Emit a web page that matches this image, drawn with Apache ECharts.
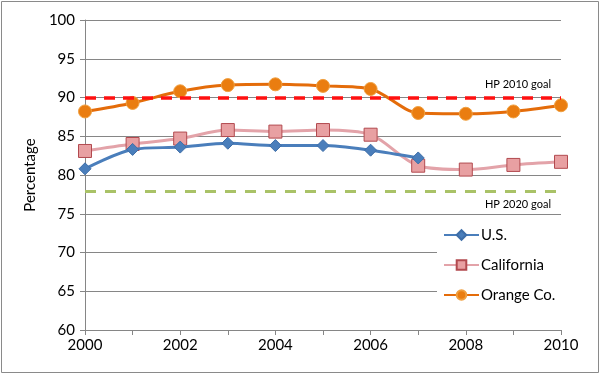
<!DOCTYPE html>
<html>
<head>
<meta charset="utf-8">
<script src="https://cdn.jsdelivr.net/npm/echarts@6/dist/echarts.min.js"></script>
<style>
html,body{margin:0;padding:0;background:#fff;}
#chart{width:602px;height:374px;}
</style>
</head>
<body>
<div id="chart"></div>
<script>
const years = ['2000','2001','2002','2003','2004','2005','2006','2007','2008','2009','2010'];
const usValues = [80.8, 83.3, 83.6, 84.1, 83.8, 83.8, 83.2, 82.2, null, null, null];
const californiaValues = [83.1, 84.0, 84.7, 85.8, 85.6, 85.8, 85.2, 81.2, 80.7, 81.3, 81.7];
const orangeValues = [88.2, 89.3, 90.8, 91.6, 91.7, 91.5, 91.1, 88.0, 87.9, 88.2, 89.0];
const goal2010 = 90;
const goal2020 = 77.9;
const yTicks = [60, 65, 70, 75, 80, 85, 90, 95, 100];

const FONT = 'Lato, "Open Sans", sans-serif';
const chart = echarts.init(document.getElementById('chart'), null, {renderer: 'canvas'});

chart.setOption({
  animation: false,
  backgroundColor: '#ffffff',
  textStyle: {fontFamily: FONT},
  graphic: [{
    type: 'rect',
    shape: {x: 1.5, y: 1.5, width: 597, height: 371},
    style: {fill: 'none', stroke: '#8a8a8a', lineWidth: 1},
    silent: true
  }],
  grid: {left: 85, right: 41, top: 20, bottom: 44},
  xAxis: {
    type: 'category',
    data: years,
    boundaryGap: false,
    axisLine: {lineStyle: {color: '#868686', width: 1}},
    axisTick: {show: true, inside: false, length: 5, interval: 0, lineStyle: {color: '#868686'}},
    axisLabel: {interval: 1, color: '#000', fontSize: 15, fontFamily: FONT, margin: 8},
    splitLine: {show: false}
  },
  yAxis: {
    type: 'value',
    min: yTicks[0],
    max: yTicks[yTicks.length - 1],
    interval: 5,
    name: 'Percentage',
    nameLocation: 'middle',
    nameGap: 46,
    nameRotate: 90,
    nameTextStyle: {color: '#000', fontSize: 15, fontFamily: FONT},
    axisLine: {show: true, lineStyle: {color: '#868686', width: 1}},
    axisTick: {show: true, length: 5, lineStyle: {color: '#868686'}},
    axisLabel: {color: '#000', fontSize: 15, fontFamily: FONT, margin: 10},
    splitLine: {show: true, lineStyle: {color: '#868686', width: 1}}
  },
  legend: {
    orient: 'vertical',
    left: 437,
    top: 220,
    padding: [7, 8, 7, 6],
    backgroundColor: '#ffffff',
    itemWidth: 35,
    itemHeight: 12,
    itemGap: 14,
    textStyle: {color: '#000', fontSize: 15, fontFamily: FONT, lineHeight: 16, padding: [0, 0, 0, -3]},
    data: ['U.S.', 'California', 'Orange Co.']
  },
  series: [
    {
      name: 'Goals',
      type: 'line',
      data: [],
      silent: true,
      markLine: {
        silent: true,
        symbol: ['none', 'none'],
        data: [
          {yAxis: goal2010, lineStyle: {color: '#ff1010', width: 3.5, type: [11, 8]},
           label: {show: true, position: 'insideEndTop', formatter: 'HP 2010 goal', color: '#000', fontSize: 11, fontFamily: FONT, distance: [10, 8]}},
          {yAxis: goal2020, lineStyle: {color: '#a9c267', width: 3, type: [11, 9]},
           label: {show: true, position: 'insideEndBottom', formatter: 'HP 2020 goal', color: '#000', fontSize: 11, fontFamily: FONT, distance: [10, 8]}}
        ]
      }
    },
    {
      name: 'U.S.',
      type: 'line',
      data: usValues,
      smooth: 0.3,
      z: 4,
      symbol: 'diamond',
      symbolSize: 12,
      lineStyle: {color: '#4a7ebb', width: 3},
      itemStyle: {color: '#4a7ebb', borderColor: '#3e6ea8', borderWidth: 1}
    },
    {
      name: 'California',
      type: 'line',
      data: californiaValues,
      smooth: 0.3,
      z: 3,
      symbol: 'rect',
      symbolSize: 13,
      lineStyle: {color: '#e3a3a9', width: 3},
      itemStyle: {color: '#e8a0a2', borderColor: '#b24a4f', borderWidth: 1}
    },
    {
      name: 'Orange Co.',
      type: 'line',
      data: orangeValues,
      smooth: 0.3,
      z: 2,
      symbol: 'circle',
      symbolSize: 13,
      lineStyle: {color: '#e46c0a', width: 3},
      itemStyle: {color: '#ea7d10', borderColor: '#f0a040', borderWidth: 1}
    }
  ]
});
</script>
</body>
</html>
